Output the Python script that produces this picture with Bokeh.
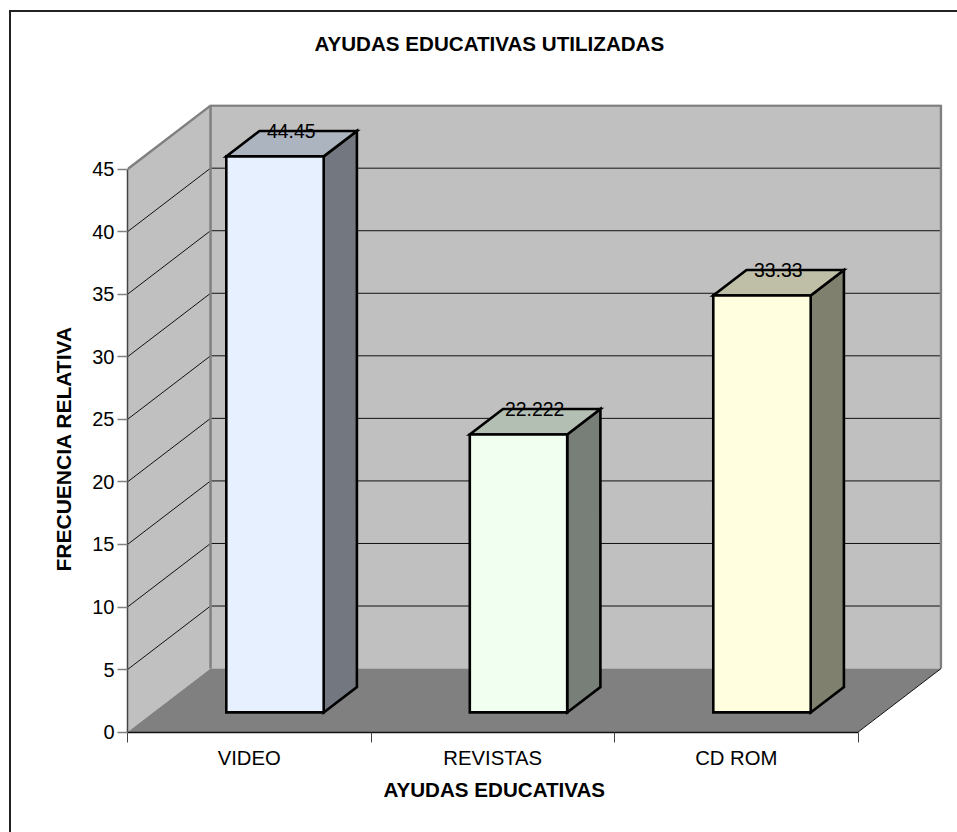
from bokeh.plotting import figure
from bokeh.embed import file_html
from bokeh.resources import INLINE
from bokeh.models import FixedTicker, Range1d, Title
from bokeh.core.properties import value as val

title = "AYUDAS EDUCATIVAS UTILIZADAS"
xlabel = "AYUDAS EDUCATIVAS"
ylabel = "FRECUENCIA RELATIVA"
categories = ["VIDEO", "REVISTAS", "CD ROM"]
values = [44.45, 22.222, 33.33]
value_labels = ["44.45", "22.222", "33.33"]
y_ticks = [0, 5, 10, 15, 20, 25, 30, 35, 40, 45]
front_colors = ["#E6F0FF", "#F0FFF0", "#FFFFE0"]
side_colors = ["#737780", "#787F78", "#80806F"]
top_colors = ["#ACB4C0", "#B4BFB4", "#BFBFA8"]

YMAX = 45
N = len(categories)
DX, DY = 0.341, 5.08       # projected offset of the full depth
D0, D1 = 0.31, 0.71        # bar front / back depth as a fraction
BW = 0.40
FONT = "Liberation Sans"
FS = "20px"


def pr(x, y, d):
    return x + d * DX, y + d * DY


def poly(pts):
    return [a for a, _ in pts], [b for _, b in pts]


p = figure(width=957, height=832, output_backend="svg", toolbar_location=None,
           x_range=Range1d(0, 815 / 243.5), y_range=Range1d(-0.03, 628 / 12.51 - 0.03),
           min_border_left=127, min_border_right=15, min_border_top=104, min_border_bottom=100,
           outline_line_color=None, background_fill_color=None, border_fill_color=None)
p.grid.visible = False
# chart-area border: only its left and top edges fall inside the page
p.styles = {"background": "linear-gradient(#222,#222) 9px 10px / 2px 100% no-repeat, "
                          "linear-gradient(#222,#222) 9px 10px / 100% 2px no-repeat"}

# walls and floor
wx, wy = poly([pr(0, 0, 0), pr(0, YMAX, 0), pr(0, YMAX, 1), pr(0, 0, 1)])
p.patch(wx, wy, fill_color="#C0C0C0", line_color=None)
bx, by = poly([pr(0, 0, 1), pr(0, YMAX, 1), pr(N, YMAX, 1), pr(N, 0, 1)])
p.patch(bx, by, fill_color="#C0C0C0", line_color=None)

# gridlines
for v in y_ticks[1:]:
    a, b = pr(0, v, 0), pr(0, v, 1)
    c = pr(N, v, 1)
    p.line([a[0], b[0], c[0]], [a[1], b[1], c[1]], line_color="#111111", line_width=1)

fx, fy = poly([pr(0, 0, 0), pr(N, 0, 0), pr(N, 0, 1), pr(0, 0, 1)])
p.patch(fx, fy, fill_color="#808080", line_color=None)

# wall edges
e1 = [pr(0, YMAX, 0), pr(0, YMAX, 1), pr(N, YMAX, 1), pr(N, 0, 1)]
p.line(*poly(e1), line_color="#808080", line_width=2.5)
e2 = [pr(0, YMAX, 1), pr(0, 0, 1)]
p.line(*poly(e2), line_color="#808080", line_width=2.5)
e3 = [pr(N, 0, 0), pr(N, 0, 1)]
p.line(*poly(e3), line_color="#111111", line_width=1)

# bars
for i, v in enumerate(values):
    l, r = i + 0.5 - BW / 2, i + 0.5 + BW / 2
    front = [pr(l, 0, D0), pr(r, 0, D0), pr(r, v, D0), pr(l, v, D0)]
    side = [pr(r, 0, D0), pr(r, 0, D1), pr(r, v, D1), pr(r, v, D0)]
    top = [pr(l, v, D0), pr(r, v, D0), pr(r, v, D1), pr(l, v, D1)]
    for pts, col in ((side, side_colors[i]), (top, top_colors[i]), (front, front_colors[i])):
        p.patch(*poly(pts), fill_color=col, line_color="black", line_width=2.6, line_join="miter")

# value labels
lx = [pr(i + 0.5, 0, (D0 + D1) / 2 - 0.005)[0] for i in range(N)]
ly = [v + D1 * DY for v in values]
p.text(lx, ly, text=value_labels, text_font=val(FONT), text_font_size=val("19.4px"),
       text_align="center", text_baseline="middle", text_color="black")

# axes
ya = p.yaxis[0]
ya.ticker = FixedTicker(ticks=y_ticks)
ya.bounds = (0, YMAX)
ya.axis_line_color = "#444444"
ya.axis_line_width = 1.5
ya.major_tick_line_color = "#808080"
ya.major_tick_line_width = 1.5
ya.major_tick_out = 10
ya.major_tick_in = 0
ya.minor_tick_out = 0
ya.minor_tick_in = 0
ya.major_label_standoff = 3
ya.major_label_text_font = FONT
ya.major_label_text_font_size = FS
ya.major_label_text_color = "black"

xa = p.xaxis[0]
xa.ticker = FixedTicker(ticks=[i + 0.5 for i in range(N)], minor_ticks=list(range(N + 1)))
xa.major_label_overrides = {i + 0.5: c for i, c in enumerate(categories)}
xa.bounds = (0, N)
xa.axis_line_color = "#111111"
xa.axis_line_width = 1.5
xa.major_tick_out = 0
xa.major_tick_in = 0
xa.minor_tick_out = 10
xa.minor_tick_in = 0
xa.minor_tick_line_color = "#444444"
xa.major_label_standoff = 4
xa.major_label_text_font = FONT
xa.major_label_text_font_size = "20.3px"
xa.major_label_text_color = "black"

# blank spacer panel that lifts the chart title above the plot area
p.add_layout(Title(text=" ", text_font=FONT, text_font_size="20px", standoff=26), "above")
p.add_layout(Title(text=title, text_font=FONT, text_font_size="20.6px", text_font_style="bold",
                   text_color="black", align="left", offset=187, standoff=0), "above")
p.add_layout(Title(text=xlabel, text_font=FONT, text_font_size="20.6px", text_font_style="bold",
                   text_color="black", align="left", offset=256, standoff=8), "below")
p.add_layout(Title(text=ylabel, text_font=FONT, text_font_size="21px", text_font_style="bold",
                   text_color="black", align="left", offset=161, standoff=30), "left")

open("out.html", "w").write(file_html(p, INLINE))
